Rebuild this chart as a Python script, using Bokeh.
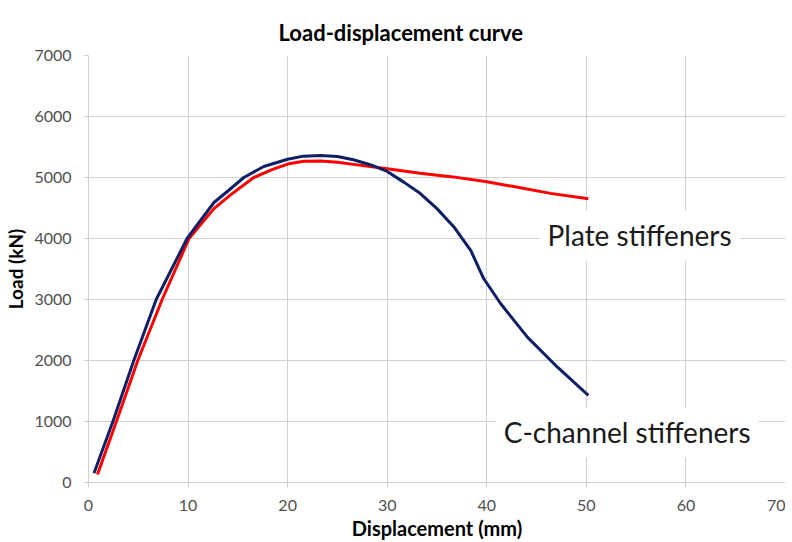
from bokeh.plotting import figure
from bokeh.models import Range1d, Label, FixedTicker
from bokeh.embed import file_html
from bokeh.resources import INLINE

# Data
plate_x = [0.9, 2.8, 4.95, 7.4, 10.1, 12.6, 14.3, 16.6, 18.3, 20.0, 21.6, 23.3, 25.0, 26.6, 28.3, 30.0, 33.3, 36.6, 40.0, 43.1, 46.4, 50.2]
plate_y = [130, 1000, 2000, 3000, 4000, 4490, 4720, 5000, 5120, 5220, 5265, 5270, 5250, 5215, 5180, 5145, 5070, 5010, 4930, 4840, 4740, 4650]

cchan_x = [0.55, 2.45, 4.55, 6.8, 9.9, 12.6, 14.3, 15.6, 17.6, 20.0, 21.6, 23.3, 25.0, 26.6, 28.3, 30.0, 31.7, 33.3, 35.0, 36.7, 38.4, 39.7, 41.4, 44.1, 47.1, 50.2]
cchan_y = [150, 1000, 2000, 3000, 4000, 4590, 4820, 5000, 5180, 5300, 5350, 5360, 5345, 5290, 5210, 5100, 4920, 4740, 4490, 4190, 3800, 3340, 2930, 2380, 1890, 1430]

x_ticks = [0, 10, 20, 30, 40, 50, 60, 70]
y_ticks = [0, 1000, 2000, 3000, 4000, 5000, 6000, 7000]

FONT = "Lato"
GRID = "#d0d0d0"
TICKTXT = "#505050"

p = figure(width=785, height=542, output_backend="svg", toolbar_location=None,
           x_range=Range1d(0, 70), y_range=Range1d(0, 7000),
           title="Load-displacement curve",
           min_border_left=88, min_border_right=0, min_border_top=55, min_border_bottom=60)

p.title.align = "left"
p.title.offset = 190
p.title.text_font = FONT
p.title.text_font_size = "22px"
p.title.text_font_style = "bold"
p.title.text_color = "#000000"
p.title.standoff = 20
p.outline_line_color = None

p.xaxis.ticker = FixedTicker(ticks=x_ticks)
p.yaxis.ticker = FixedTicker(ticks=y_ticks)
for ax in (p.xaxis[0], p.yaxis[0]):
    ax.axis_line_color = GRID
    ax.major_tick_line_color = GRID
    ax.major_tick_out = 5
    ax.major_tick_in = 0
    ax.minor_tick_line_color = None
    ax.major_label_text_font = FONT
    ax.major_label_text_font_size = "16px"
    ax.major_label_text_color = TICKTXT
    ax.axis_label_text_font = FONT
    ax.axis_label_text_font_style = "bold"
    ax.axis_label_text_color = "#000000"

p.xaxis.axis_label = "Displacement (mm)"
p.yaxis.axis_label = "Load (kN)"
p.xaxis.axis_label_text_font_size = "20px"
p.yaxis.axis_label_text_font_size = "19px"
p.xaxis.major_label_standoff = 12
p.yaxis.major_label_standoff = 12
p.xaxis.axis_label_standoff = 2
p.yaxis.axis_label_standoff = 4

p.grid.grid_line_color = GRID
p.grid.grid_line_width = 1

p.line(plate_x, plate_y, line_color="#ff0000", line_width=3, line_join="round")
p.line(cchan_x, cchan_y, line_color="#0f1f66", line_width=3, line_join="round")

for txt, lx, ly in [("Plate stiffeners", 45.3, 4050), ("C-channel stiffeners", 40.9, 820)]:
    p.add_layout(Label(x=lx, y=ly, text=txt, text_font=FONT, text_font_size="28px",
                       text_color="#1a1a1a", text_baseline="middle",
                       background_fill_color="white", padding=8))

open("out.html", "w").write(file_html(p, INLINE))
